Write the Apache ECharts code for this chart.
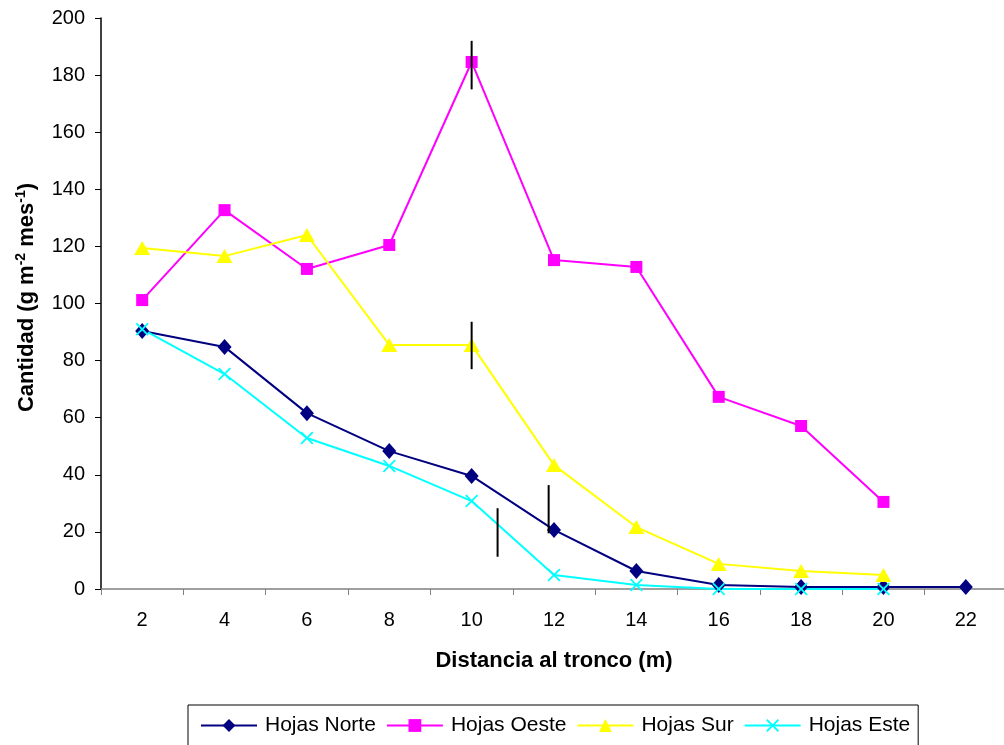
<!DOCTYPE html>
<html>
<head>
<meta charset="utf-8">
<script src="https://cdn.jsdelivr.net/npm/echarts@6/dist/echarts.min.js"></script>
<style>html,body{margin:0;padding:0;background:#fff}#c{width:1004px;height:745px}</style>
</head>
<body>
<div id="c"></div>
<script>
var categories = ['2','4','6','8','10','12','14','16','18','20','22'];
var yTicks = [0,20,40,60,80,100,120,140,160,180,200];
var hojasNorte = [90.4, 84.8, 61.6, 48.3, 39.6, 20.7, 6.3, 1.4, 0.7, 0.7, 0.7];
var hojasOeste = [101.2, 132.7, 112.1, 120.5, 184.6, 115.2, 112.8, 67.3, 57.1, 30.5, null];
var hojasSur = [119.4, 116.6, 124.0, 85.5, 85.5, 43.4, 21.7, 8.8, 6.3, 4.9, null];
var hojasEste = [91.0, 75.3, 52.9, 43.1, 30.8, 4.9, 1.4, 0.0, 0.0, 0.0, null];
// error bars: distance position (m), low, high
var errX = [10.0, 10.0, 10.63, 11.87];
var errLow = [175.0, 77.0, 11.3, 19.5];
var errHigh = [192.0, 93.6, 28.3, 36.4];

var font = 'Arial, "Liberation Sans", sans-serif';
var xPath = 'path://M0,1 L1,0 L5,4 L9,0 L10,1 L6,5 L10,9 L9,10 L5,6 L1,10 L0,9 L4,5 Z';

var errData = errX.map(function(x, i){ return [x, errLow[i], errHigh[i]]; });

function lineSeries(name, data, color, symbol, size) {
  return {
    name: name, type: 'line', data: data, xAxisIndex: 0, yAxisIndex: 0,
    symbol: symbol, symbolSize: size, showAllSymbol: true,
    lineStyle: {color: color, width: 2},
    itemStyle: {color: color},
    emphasis: {disabled: true},
    animation: false, z: 3
  };
}

var chart = echarts.init(document.getElementById('c'));
chart.setOption({
  backgroundColor: '#fff',
  animation: false,
  grid: {left: 101, top: 18, width: 906, height: 571, outerBoundsMode: 'none', containLabel: false},
  xAxis: [{
    type: 'category', data: categories, boundaryGap: true,
    name: 'Distancia al tronco (m)', nameLocation: 'middle', nameGap: 61,
    nameTextStyle: {fontFamily: font, fontSize: 22, fontWeight: 'bold', color: '#000'},
    axisLine: {lineStyle: {color: '#808080', width: 1.5}},
    axisTick: {show: true, length: 6, lineStyle: {color: '#808080'}},
    axisLabel: {fontFamily: font, fontSize: 20, color: '#000', margin: 21},
    splitLine: {show: false}
  }, {
    type: 'value', min: 1, max: 23, show: false
  }],
  yAxis: [{
    type: 'value', min: 0, max: 200, interval: 20,
    name: '{a|Cantidad (g m}{s|-2}{a| mes}{s|-1}{a|)}', nameLocation: 'middle', nameGap: 63,
    nameTextStyle: {
      padding: [0, 0, 0, 12],
      rich: {
        a: {fontFamily: font, fontSize: 22, fontWeight: 'bold', color: '#000', lineHeight: 24, verticalAlign: 'bottom'},
        s: {fontFamily: font, fontSize: 14, fontWeight: 'bold', color: '#000', lineHeight: 24, verticalAlign: 'top'}
      }
    },
    axisLine: {show: true, lineStyle: {color: '#000', width: 1.5}},
    axisTick: {show: true, length: 6, lineStyle: {color: '#000'}},
    axisLabel: {fontFamily: font, fontSize: 20, color: '#000', margin: 16,
      formatter: function(v){ return yTicks.indexOf(v) >= 0 ? String(v) : ''; }},
    splitLine: {show: false}
  }],
  legend: {
    left: 188, top: 705,
    padding: [10, 8, 20, 12],
    borderColor: '#000', borderWidth: 1,
    itemWidth: 56, itemHeight: 16, itemGap: 10,
    textStyle: {fontFamily: font, fontSize: 21, color: '#000', padding: [0,0,0,3]},
    data: ['Hojas Norte','Hojas Oeste','Hojas Sur','Hojas Este']
  },
  series: [
    {
      type: 'custom', xAxisIndex: 1, yAxisIndex: 0, data: errData, z: 5, silent: true,
      renderItem: function(params, api){
        var p1 = api.coord([api.value(0), api.value(1)]);
        var p2 = api.coord([api.value(0), api.value(2)]);
        return {type: 'line', shape: {x1: p1[0], y1: p1[1], x2: p2[0], y2: p2[1]},
          style: {stroke: '#000', lineWidth: 2}};
      },
      encode: {x: 0, y: [1, 2]}
    },
    lineSeries('Hojas Norte', hojasNorte, '#000080', 'diamond', [14, 16]),
    lineSeries('Hojas Oeste', hojasOeste, '#FF00FF', 'rect', 12),
    lineSeries('Hojas Sur', hojasSur, '#FFFF00', 'triangle', [16, 14]),
    lineSeries('Hojas Este', hojasEste, '#00FFFF', xPath, 13)
  ]
});
</script>
</body>
</html>
